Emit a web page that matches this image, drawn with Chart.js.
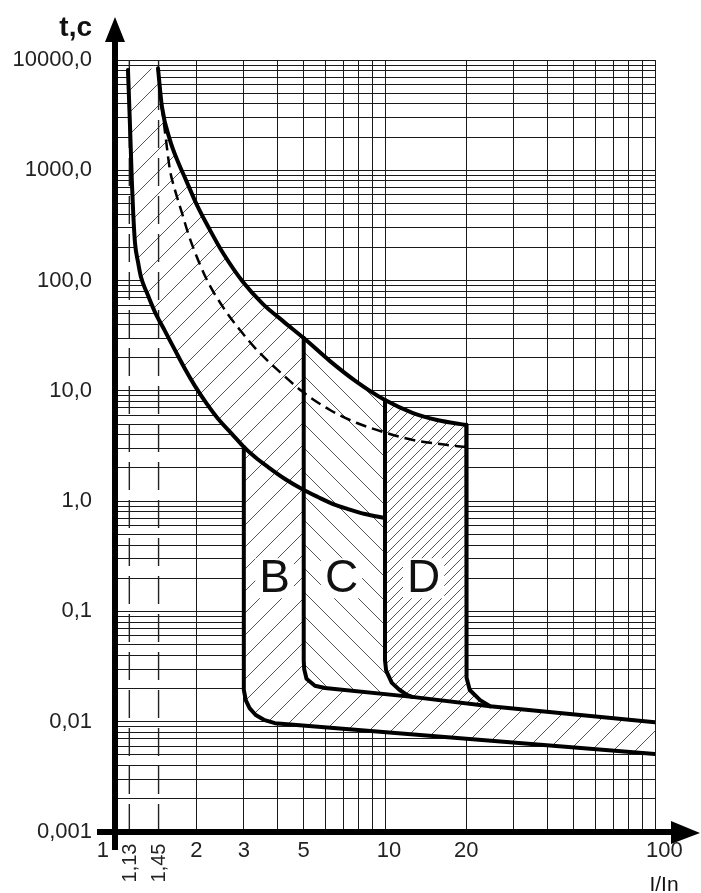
<!DOCTYPE html>
<html>
<head>
<meta charset="utf-8">
<script src="https://cdn.jsdelivr.net/npm/chart.js@4.4.1/dist/chart.umd.min.js"></script>
<style>
html,body{margin:0;padding:0;background:#fff;}
#wrap{position:relative;width:701px;height:893px;}
</style>
</head>
<body>
<div id="wrap"><canvas id="c" width="701" height="893"></canvas></div>
<script>
// ---------- data ----------
const yTickValues = [0.001, 0.01, 0.1, 1, 10, 100, 1000, 10000];
const yTickText   = ['0,001', '0,01', '0,1', '1,0', '10,0', '100,0', '1000,0', '10000,0'];
const xTickValues = [1, 2, 3, 5, 10, 20, 100];
const xTickText   = ['1', '2', '3', '5', '10', '20', '100'];
const xMarkValues = [1.13, 1.45];
const xMarkText   = ['1,13', '1,45'];

// lower thermal boundary (cold state)
const lowerX = [1.117, 1.137, 1.154, 1.169, 1.186, 1.217, 1.248, 1.314, 1.406, 1.532, 1.668, 1.817, 1.979, 2.192, 2.448, 2.714, 2.979, 3.30, 3.687, 4.263, 4.927, 5.647, 6.42, 7.296, 8.434, 10];
const lowerY = [8100, 2465, 815, 393, 219, 147, 107.6, 77.0, 51.8, 34.8, 23.4, 15.8, 11.05, 7.59, 5.32, 4.06, 3.16, 2.51, 2.04, 1.587, 1.287, 1.089, 0.941, 0.848, 0.764, 0.703];
// upper thermal boundary
const upperX = [1.443, 1.493, 1.598, 1.712, 1.832, 2.012, 2.248, 2.512, 2.979, 3.533, 4.191, 5.0, 6.257, 7.876, 10, 12.7, 15.58, 20];
const upperY = [8400, 3741, 1878, 1187, 815, 483, 287, 177.6, 96.9, 61.2, 42.9, 30.1, 18.6, 12.0, 8.25, 6.29, 5.44, 4.9];
// dashed (hot state) curve
const dashX = [1.45, 1.468, 1.506, 1.545, 1.598, 1.668, 1.771, 1.864, 1.945, 2.192, 2.512, 2.904, 3.357, 4.084, 4.97, 6.257, 7.876, 10.17, 12.7, 15.98, 20];
const dashY = [7800, 5117, 3099, 1878, 1004, 661, 409, 270, 201, 101, 57.5, 35.6, 23.4, 14.8, 9.75, 6.70, 5.11, 4.14, 3.58, 3.29, 3.09];
// B: x=3 step + lower magnetic band line
const bX = [3, 3, 3.05, 3.15, 3.32, 3.56, 3.91, 100];
const bY = [3.1, 0.0194, 0.0157, 0.0133, 0.0115, 0.0104, 0.0097, 0.0051];
// C: x=5 step + upper magnetic band line
const cX = [5, 5, 5.02, 5.12, 5.5, 5.99, 12.6, 24.5, 100];
const cY = [30.1, 0.036, 0.030, 0.0245, 0.0212, 0.0202, 0.0168, 0.0138, 0.0099];
// D: x=10 and x=20 steps
const dlX = [10, 10, 10.1, 10.6, 11.3, 12.06, 12.6];
const dlY = [8.25, 0.036, 0.029, 0.0225, 0.0195, 0.0175, 0.0168];
const drX = [20, 20, 20.1, 20.6, 22.5, 24.5];
const drY = [4.9, 0.0313, 0.025, 0.0194, 0.0157, 0.0138];
// region letters
const letterText = ['B', 'C', 'D'];
const letterX = [3.9, 6.9, 13.9];
const letterY = [0.2, 0.2, 0.2];

// ---------- helpers ----------
const pts = (xs, ys) => xs.map((x, i) => ({x: x, y: ys[i]}));
const L = pts(lowerX, lowerY), U = pts(upperX, upperY), DSH = pts(dashX, dashY);
const B = pts(bX, bY), C = pts(cX, cY), DL = pts(dlX, dlY), DR = pts(drX, drY);
const dlEnd = dlX[dlX.length - 1], drEnd = drX[drX.length - 1];

const bandPoly = [].concat(
  L.filter(p => p.x < bX[0]),
  B,
  C.slice().reverse(),
  U.filter(p => p.x < cX[0]).reverse()
);
const cPoly = [].concat(
  C.filter(p => p.x <= dlEnd),
  DL.slice().reverse(),
  U.filter(p => p.x > cX[0] && p.x < dlX[0]).reverse()
);
const dPoly = [].concat(
  DL,
  C.filter(p => p.x > dlEnd && p.x <= drEnd),
  DR.slice().reverse(),
  U.filter(p => p.x > dlX[0] && p.x < drX[0]).reverse()
);

function makeHatch(s, dir, color, lw) {
  const c = document.createElement('canvas');
  c.width = s; c.height = s;
  const g = c.getContext('2d');
  g.fillStyle = '#ffffff';
  g.fillRect(0, 0, s, s);
  g.strokeStyle = color;
  g.lineWidth = lw;
  g.beginPath();
  for (let k = -1; k <= 1; k++) {
    if (dir > 0) { g.moveTo(k * s, s); g.lineTo(k * s + s, 0); }
    else { g.moveTo(k * s, 0); g.lineTo(k * s + s, s); }
  }
  g.stroke();
  return g.createPattern(c, 'repeat');
}
const hatchSparse = makeHatch(22, 1, '#555555', 1);
const hatchBack = makeHatch(24, -1, '#555555', 1);
const hatchDense = makeHatch(10, 1, '#555555', 1);

function allLogTicks(lo, hi) {
  const out = [];
  for (let e = Math.round(Math.log10(lo)); e < Math.round(Math.log10(hi)); e++) {
    for (let k = 1; k <= 9; k++) out.push(Number((k * Math.pow(10, e)).toPrecision(6)));
  }
  out.push(hi);
  return out;
}
const FONT = '"Liberation Sans", Arial, sans-serif';

const thick = (data) => ({data, borderColor: '#000', borderWidth: 4, fill: false, tension: 0,
  borderJoinStyle: 'round', borderCapStyle: 'round', pointRadius: 0});
const smooth = (data) => Object.assign(thick(data), {cubicInterpolationMode: 'monotone'});

const decor = {
  id: 'decor',
  afterDatasetsDraw(chart) {
    const {ctx, scales: {x, y}} = chart;
    ctx.save();
    ctx.font = '46px ' + FONT;
    ctx.textAlign = 'center';
    ctx.textBaseline = 'middle';
    letterText.forEach((t, i) => {
      const px = x.getPixelForValue(letterX[i]), py = y.getPixelForValue(letterY[i]);
      const w = ctx.measureText(t).width;
      ctx.fillStyle = '#fff';
      ctx.fillRect(px - w / 2 - 4, py - 20, w + 8, 40);
      ctx.fillStyle = '#111';
      ctx.fillText(t, px, py + 1);
    });
    ctx.restore();
  },
  afterDraw(chart) {
    const {ctx, scales: {x, y}} = chart;
    const x0 = x.getPixelForValue(1), y0 = y.getPixelForValue(0.001);
    const xr = x.getPixelForValue(100), yt = y.getPixelForValue(10000);
    ctx.save();
    ctx.fillStyle = '#000';
    // y axis bar + arrow
    ctx.fillRect(x0 - 3, yt - 20, 6, y0 + 18 - (yt - 20));
    ctx.beginPath();
    ctx.moveTo(x0 - 10, yt - 18); ctx.lineTo(x0 + 10, yt - 18); ctx.lineTo(x0, yt - 43); ctx.closePath(); ctx.fill();
    // x axis bar + arrow
    ctx.fillRect(x0 - 18, y0 - 3, xr + 17 - (x0 - 18), 6);
    ctx.beginPath();
    ctx.moveTo(xr + 16, y0 - 11); ctx.lineTo(xr + 16, y0 + 12); ctx.lineTo(xr + 45, y0 + 1); ctx.closePath(); ctx.fill();
    // axis titles
    ctx.fillStyle = '#111';
    ctx.font = 'bold 28px ' + FONT;
    ctx.textAlign = 'right';
    ctx.textBaseline = 'alphabetic';
    ctx.fillText('t,c', 92, 36);
    ctx.font = '21px ' + FONT;
    ctx.textAlign = 'center';
    ctx.fillText('I/In', xr + 9, 891);
    // x tick labels
    ctx.fillStyle = '#222';
    ctx.font = '22px ' + FONT;
    ctx.textBaseline = 'middle';
    xTickValues.forEach((v, i) => {
      const px = x.getPixelForValue(v);
      if (i === 0) { ctx.textAlign = 'right'; ctx.fillText(xTickText[i], px - 6, y0 + 19); }
      else if (i === xTickValues.length - 1) { ctx.textAlign = 'left'; ctx.fillText(xTickText[i], px - 9, y0 + 19); }
      else { ctx.textAlign = 'center'; ctx.fillText(xTickText[i], px + (v >= 10 && v < 20 ? 4 : 0), y0 + 19); }
    });
    ctx.font = '20px ' + FONT;
    xMarkValues.forEach((v, i) => {
      const px = x.getPixelForValue(v);
      ctx.save();
      ctx.translate(px + 1, y0 + 31);
      ctx.rotate(-Math.PI / 2);
      ctx.textAlign = 'center';
      ctx.textBaseline = 'middle';
      ctx.fillText(xMarkText[i], 0, 0);
      ctx.restore();
    });
    ctx.restore();
  }
};

new Chart(document.getElementById('c'), {
  type: 'line',
  data: {
    datasets: [
      smooth(L),
      smooth(U),
      Object.assign(smooth(DSH), {borderWidth: 2.5, borderDash: [11, 6], borderCapStyle: 'butt'}),
      thick(B),
      thick(C),
      thick(DL),
      thick(DR),
      {data: [{x: xMarkValues[0], y: 0.001}, {x: xMarkValues[0], y: 10000}], borderColor: '#222', borderWidth: 1.4, borderDash: [28, 10], fill: false, pointRadius: 0},
      {data: [{x: xMarkValues[1], y: 0.001}, {x: xMarkValues[1], y: 10000}], borderColor: '#222', borderWidth: 1.4, borderDash: [28, 10], fill: false, pointRadius: 0},
      {data: dPoly, borderWidth: 0, borderColor: 'rgba(0,0,0,0)', backgroundColor: hatchDense, fill: 'shape', tension: 0, pointRadius: 0},
      {data: cPoly, borderWidth: 0, borderColor: 'rgba(0,0,0,0)', backgroundColor: hatchBack, fill: 'shape', tension: 0, pointRadius: 0},
      {data: bandPoly, borderWidth: 0, borderColor: 'rgba(0,0,0,0)', backgroundColor: hatchSparse, fill: 'shape', tension: 0, pointRadius: 0}
    ]
  },
  options: {
    responsive: false,
    animation: false,
    devicePixelRatio: 1,
    layout: {padding: {left: 0, right: 46, top: 60, bottom: 61}},
    plugins: {legend: {display: false}, tooltip: {enabled: false}},
    elements: {point: {radius: 0, hoverRadius: 0}},
    scales: {
      x: {
        type: 'logarithmic', min: 1, max: 100,
        afterBuildTicks: (s) => { s.ticks = allLogTicks(1, 100).map(v => ({value: v})); },
        ticks: {display: false},
        grid: {color: '#1a1a1a', lineWidth: 1, drawTicks: false},
        border: {display: false}
      },
      y: {
        type: 'logarithmic', min: 0.001, max: 10000,
        afterBuildTicks: (s) => { s.ticks = allLogTicks(0.001, 10000).map(v => ({value: v})); },
        afterFit: (s) => { s.width = 115; },
        ticks: {
          autoSkip: false, padding: 23, color: '#222',
          font: {size: 22, family: FONT},
          callback: (v) => {
            const i = yTickValues.findIndex(t => Math.abs(Math.log10(t) - Math.log10(v)) < 1e-6);
            return i >= 0 ? yTickText[i] : '';
          }
        },
        grid: {color: '#1a1a1a', lineWidth: 1, drawTicks: false},
        border: {display: false}
      }
    }
  },
  plugins: [decor]
});
</script>
</body>
</html>
